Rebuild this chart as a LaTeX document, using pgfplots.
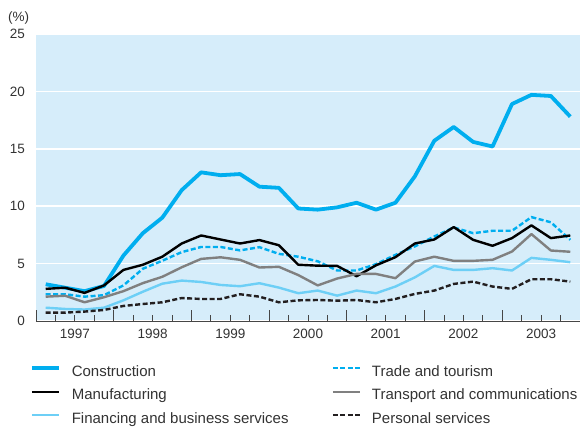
\documentclass[border=0pt]{standalone}
\usepackage{fontspec}
\setmainfont{Liberation Sans}
\usepackage{pgfplots}
\usepackage{pgfplotstable}
\pgfplotsset{compat=1.18}
\usetikzlibrary{calc}
\definecolor{bgblue}{RGB}{214,237,250}
\definecolor{cyanc}{RGB}{0,174,239}
\definecolor{lightc}{RGB}{109,207,246}
\definecolor{grayc}{RGB}{128,128,128}
\definecolor{darkc}{RGB}{35,31,32}
\definecolor{txt}{RGB}{51,51,51}
\definecolor{axc}{RGB}{70,70,70}

\pgfplotstableread{
x        con    tra    man    tsp    fin    per
1997.125 3.20   2.33   2.80   2.12   1.16   0.73
1997.375 2.90   2.33   2.90   2.20   1.05   0.73
1997.625 2.60   2.12   2.45   1.63   1.00   0.82
1997.875 3.05   2.25   3.10   2.07   1.16   0.96
1998.125 5.70   3.10   4.45   2.60   1.80   1.31
1998.375 7.65   4.55   4.90   3.30   2.55   1.48
1998.625 9.00   5.25   5.60   3.85   3.25   1.63
1998.875 11.40  6.00   6.75   4.68   3.52   2.00
1999.125 12.95  6.45   7.45   5.41   3.40   1.92
1999.375 12.70  6.45   7.10   5.55   3.14   1.92
1999.625 12.80  6.15   6.75   5.33   3.03   2.33
1999.875 11.70  6.43   7.05   4.66   3.29   2.12
2000.125 11.60  5.85   6.60   4.72   2.91   1.63
2000.375 9.80   5.60   4.90   4.00   2.42   1.80
2000.625 9.70   5.20   4.82   3.10   2.65   1.83
2000.875 9.90   4.40   4.80   3.70   2.21   1.77
2001.125 10.30  4.40   3.90   4.10   2.65   1.83
2001.375 9.70   4.95   4.85   4.10   2.42   1.63
2001.625 10.30  5.76   5.56   3.73   3.00   1.92
2001.875 12.60  6.50   6.75   5.18   3.80   2.36
2002.125 15.70  7.36   7.10   5.60   4.80   2.65
2002.375 16.90  8.15   8.18   5.24   4.45   3.23
2002.625 15.60  7.65   7.07   5.24   4.45   3.43
2002.875 15.20  7.86   6.55   5.33   4.60   3.00
2003.125 18.90  7.86   7.22   6.05   4.40   2.80
2003.375 19.70  9.05   8.33   7.57   5.50   3.64
2003.625 19.60  8.60   7.22   6.14   5.33   3.64
2003.875 17.80  7.07   7.45   6.03   5.12   3.43
}\datatable

\begin{document}
\begin{tikzpicture}
\begin{axis}[
  scale only axis,
  width=544pt, height=287pt,
  xmin=1997, xmax=2004, ymin=0, ymax=25,
  xtick={1997,1998,1999,2000,2001,2002,2003,2004},
  x tick label as interval,
  xticklabels={1997,1998,1999,2000,2001,2002,2003},
  minor x tick num=3,
  ytick={0,5,10,15,20,25},
  tick align=inside,
  major tick length=11pt,
  minor tick length=6pt,
  axis x line*=bottom,
  axis y line*=left,
  y axis line style={draw=none},
  x axis line style={draw=axc, line width=0.9pt},
  ytick style={draw=none},
  xtick style={draw=axc, line width=0.8pt},
  axis background/.style={fill=bgblue},
  ymajorgrids,
  grid style={white, line width=1.5pt},
  /pgf/number format/assume math mode=true,
  ticklabel style={font=\fontsize{13.5}{15}\selectfont, text=txt},
  yticklabel style={anchor=east, inner sep=0pt, xshift=-11pt},
  xticklabel style={anchor=north, inner sep=0pt, yshift=-8pt},
  legend columns=2,
  legend cell align=left,
  legend style={
    at={(0,0)}, anchor=north west, xshift=-6pt, yshift=-44pt,
    draw=none, fill=none, inner sep=0pt, outer sep=0pt,
    font=\fontsize{15}{17}\selectfont, text=txt,
    nodes={inner sep=0pt, text height=11pt, text depth=3.5pt},
    row sep=9pt,
    /tikz/every odd column/.append style={column sep=11pt},
    /tikz/every even column/.append style={column sep=43pt},
  },
  legend image code/.code={\draw[#1] (0pt,4pt) -- (27pt,4pt);},
]
\addplot[cyanc, line width=3.8pt, line join=round] table[x=x, y=con] {\datatable};
\addlegendentry{Construction}
\addplot[cyanc, line width=2.4pt, dash pattern=on 5pt off 2.5pt] table[x=x, y=tra] {\datatable};
\addlegendentry{Trade and tourism}
\addplot[black, line width=2.4pt, line join=round] table[x=x, y=man] {\datatable};
\addlegendentry{Manufacturing}
\addplot[grayc, line width=2.4pt, line join=round] table[x=x, y=tsp] {\datatable};
\addlegendentry{Transport and communications}
\addplot[lightc, line width=2.4pt, line join=round] table[x=x, y=fin] {\datatable};
\addlegendentry{Financing and business services}
\addplot[darkc, line width=2.4pt, dash pattern=on 5pt off 2.5pt] table[x=x, y=per] {\datatable};
\addlegendentry{Personal services}
\coordinate (bl) at (rel axis cs:0,0);
\coordinate (tl) at (rel axis cs:0,1);
\end{axis}
\node[anchor=base west, inner sep=0pt, font=\fontsize{13.5}{15}\selectfont, text=txt] at ($(tl)+(-28pt,12pt)$) {(\%)};
\pgfresetboundingbox
\path[use as bounding box] ($(bl)+(-36pt,-107pt)$) rectangle ($(bl)+(544pt,321pt)$);
\end{tikzpicture}
\end{document}
